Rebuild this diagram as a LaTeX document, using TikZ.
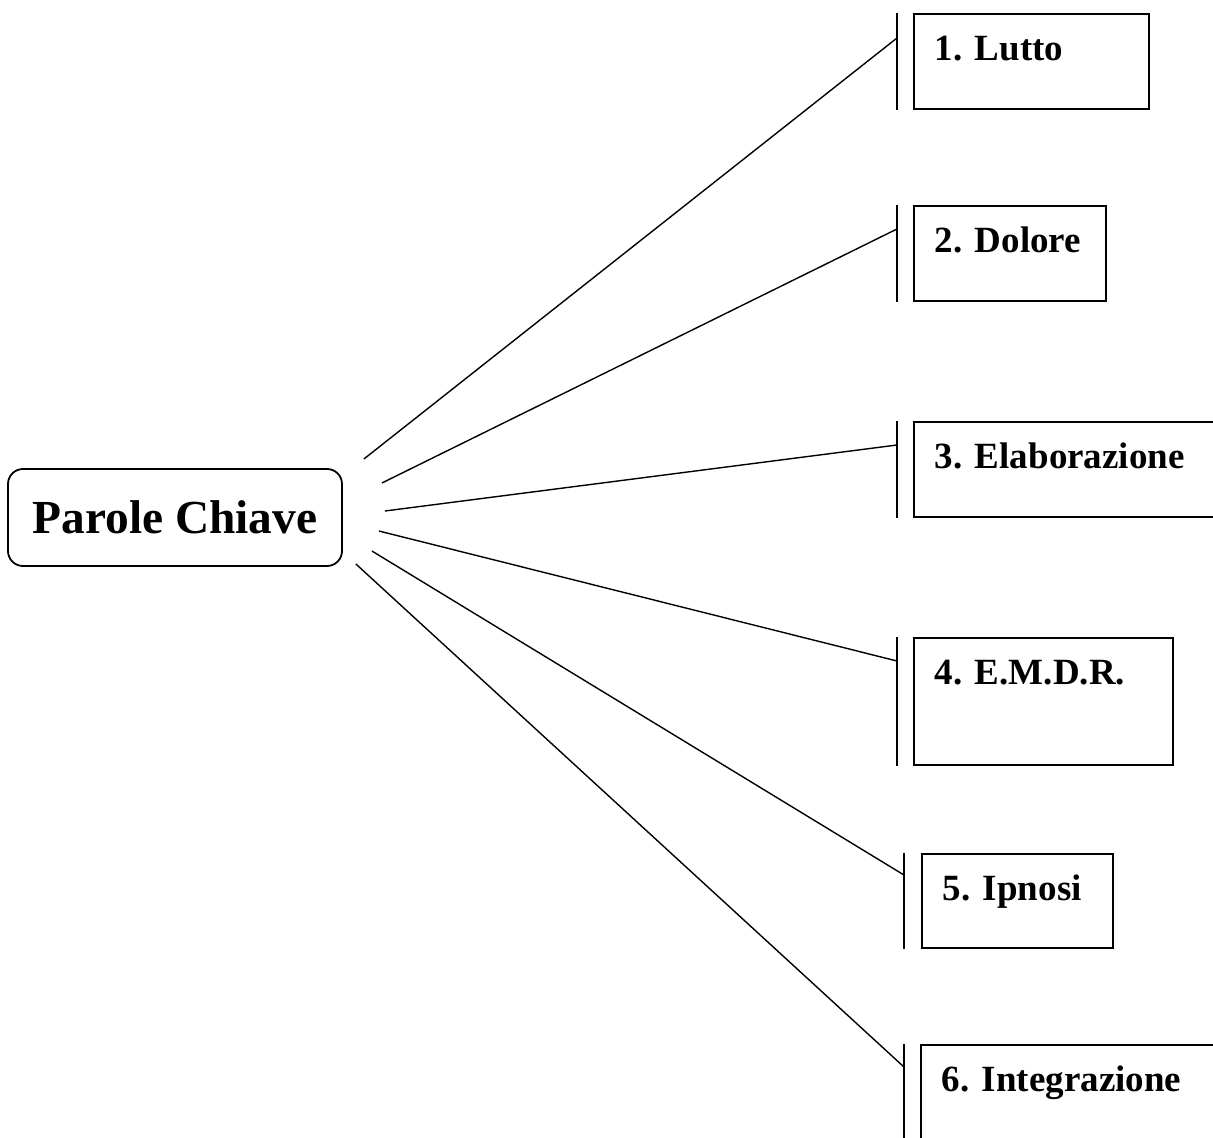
\documentclass[tikz,border=0pt]{standalone}
\usepackage{fontspec}
\setmainfont{Liberation Serif}
\usetikzlibrary{calc}
\frenchspacing
\hyphenpenalty=10000

\begin{document}
\begin{tikzpicture}[x=0.5pt,y=-0.5pt,
    keybox/.style={draw,line width=0.9pt,anchor=north west,inner xsep=10.5pt,inner ysep=0pt,
      align=left,text height=23.5pt,font=\fontsize{18.5}{22}\selectfont\bfseries},
    keybar/.style={line width=0.9pt},
    link/.style={line width=0.7pt}]
  \useasboundingbox (0,0) rectangle (1213,1138);
  \node[draw,line width=0.9pt,rounded corners=7.5pt,minimum width=167pt,minimum height=48.5pt,
    font=\fontsize{23.7}{28}\selectfont\bfseries] (pc) at (175,517.5) {Parole Chiave};
  \node[keybox,text width=96.5pt,text depth=24pt]   (b1) at (913,13)   {1. Lutto};
  \node[keybox,text width=75pt,text depth=24pt]     (b2) at (913,205)  {2. Dolore};
  \node[keybox,text width=144pt,text depth=24pt]    (b3) at (913,421)  {3. Elaborazione};
  \node[keybox,text width=108.5pt,text depth=40pt]  (b4) at (913,637)  {4. E.M.D.R.};
  \node[keybox,text width=74.5pt,text depth=23.5pt] (b5) at (921,853)  {5. Ipnosi};
  \node[keybox,text width=144pt,text depth=32pt]    (b6) at (920,1044) {6. Integrazione};
  % bars left of the boxes
  \draw[keybar] ($(b1.north west)+(-16,0)$) -- ($(b1.south west)+(-16,0)$);
  \draw[keybar] ($(b2.north west)+(-16,0)$) -- ($(b2.south west)+(-16,0)$);
  \draw[keybar] ($(b3.north west)+(-16,0)$) -- ($(b3.south west)+(-16,0)$);
  \draw[keybar] ($(b4.north west)+(-16,0)$) -- ($(b4.south west)+(-16,0)$);
  \draw[keybar] ($(b5.north west)+(-17,0)$) -- ($(b5.south west)+(-17,0)$);
  \draw[keybar] ($(b6.north west)+(-16,0)$) -- ($(b6.south west)+(-16,0)$);
  % free ends near the key node
  \coordinate (s1) at ($(pc.east)+(21,-58.5)$);
  \coordinate (s2) at ($(pc.east)+(39,-34.5)$);
  \coordinate (s3) at ($(pc.east)+(42,-6.5)$);
  \coordinate (s4) at ($(pc.east)+(36,13.5)$);
  \coordinate (s5) at ($(pc.east)+(29,33.5)$);
  \coordinate (s6) at ($(pc.east)+(13,46.5)$);
  \draw[link] (s1) -- ($(b1.north west)+(-16,25)$); % Lutto
  \draw[link] (s2) -- ($(b2.north west)+(-16,24)$); % Dolore
  \draw[link] (s3) -- ($(b3.north west)+(-16,24)$); % Elaborazione
  \draw[link] (s4) -- ($(b4.north west)+(-16,24)$); % E.M.D.R.
  \draw[link] (s5) -- ($(b5.north west)+(-17,22)$); % Ipnosi
  \draw[link] (s6) -- ($(b6.north west)+(-16,23)$); % Integrazione
\end{tikzpicture}
\end{document}
